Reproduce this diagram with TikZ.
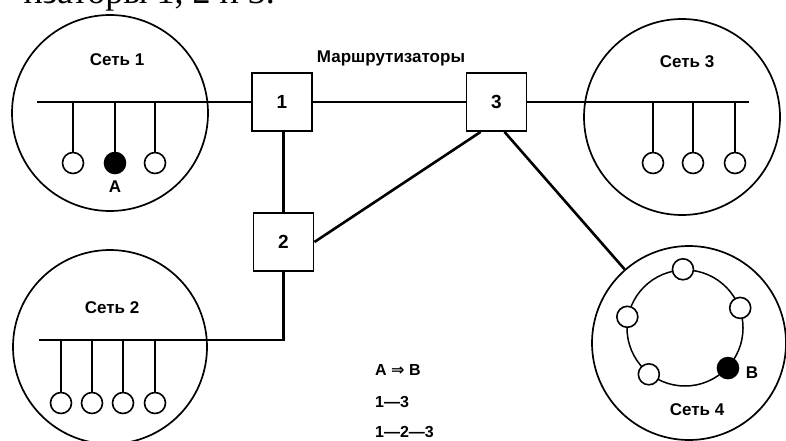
\documentclass[tikz,border=0pt]{standalone}
\usepackage{fontspec}
\setmainfont{Liberation Sans}
\newfontfamily\serifcut{Liberation Serif}
\newfontfamily\symfnt{DejaVu Sans}
\begin{document}
\begin{tikzpicture}[x=1pt,y=-1pt,
  bus/.style={line width=2.8pt},
  link/.style={line width=2.6pt},
  drop/.style={line width=1.4pt},
  netring/.style={draw,circle,line width=1.7pt,inner sep=0pt},
  router/.style={draw,line width=1.9pt,minimum width=60pt,minimum height=58pt,inner sep=0pt,font=\fontsize{19}{19}\selectfont\bfseries},
  host/.style={draw,circle,line width=1.6pt,minimum size=21pt,inner sep=0pt,fill=white},
  hostB/.style={host,fill=black},
  lbl/.style={font=\fontsize{17}{17}\selectfont\bfseries,inner sep=0pt},
  leg/.style={font=\fontsize{16}{16}\selectfont\bfseries,inner sep=0pt,anchor=west}]
\clip (0,0) rectangle (786,441);
\useasboundingbox (0,0) rectangle (786,441);

% cut-off text at top
\node[font=\serifcut\fontsize{36}{36}\selectfont,anchor=base east,inner sep=0pt] (cut) at (275,4) {изаторы 1, 2 и 3.};

% networks
\node[netring,minimum size=196pt] (n1) at (110,113) {};
\node[netring,minimum size=194pt] (n2) at (110,347) {};
\node[netring,minimum size=196pt] (n3) at (682,117) {};
\node[netring,minimum size=194pt] (n4) at (689,343) {};

% routers
\node[router] (r1) at (282,102) {1};
\node[router] (r2) at (283.5,242) {2};
\node[router] (r3) at (496.5,102) {3};

% buses
\coordinate (b1) at (37,102);
\coordinate (b3) at (749,102);
\coordinate (b2) at (39,340);
\draw[bus] (b1) -- (r1);
\draw[bus] (r3) -- (b3);
\draw[bus] (b2) -- (b2 -| r2) -- (r2.south);

% router links
\draw[link] (r1) -- (r3);
\draw[link] (r2.north) -- (r2.north |- r1.south);
\draw[link] (r2.east) -- ([xshift=15pt]r3.south west);
\draw[link] ([xshift=39pt]r3.south west) -- (n4);

% net 1 hosts
\foreach \x/\n/\s in {73/h11/host,115/h12/hostB,155/h13/host}{
  \node[\s] (\n) at (\x,163) {};
  \draw[drop] (\n.north) -- (\n.north |- b1);
}
% net 3 hosts
\foreach \x/\n in {653/h31,693/h32,735/h33}{
  \node[host] (\n) at (\x,163) {};
  \draw[drop] (\n.north) -- (\n.north |- b3);
}
% net 2 hosts
\foreach \x/\n in {61/h21,92/h22,123/h23,155/h24}{
  \node[host] (\n) at (\x,403) {};
  \draw[drop] (\n.north) -- (\n.north |- b2);
}
% net 4 ring
\node[netring,line width=1.5pt,minimum size=116pt] (ring) at (685,328) {};
\node[host] (h41) at (ring.92) {};
\node[host] (h42) at (ring.20) {};
\node[host] (h43) at (ring.169) {};
\node[host] (h44) at (ring.232) {};
\node[hostB] (h45) at (ring.317) {};

% labels
\node[lbl] (l1) at (117,60) {Сеть 1};
\node[lbl] (l3) at (687,62) {Сеть 3};
\node[lbl] (l2) at (112,308) {Сеть 2};
\node[lbl] (l4) at (697,410) {Сеть 4};
\node[lbl] (la) at (115,187) {A};
\node[lbl] (lb) at (752,373) {B};
\node[lbl] (lm) at (391,58) {Маршрутизаторы};

% legend
\node[leg] (g1) at (375,370) {A {\symfnt\bfseries⇒} B};
\node[leg] (g2) at (375,402) {1—3};
\node[leg] (g3) at (375,432) {1—2—3};
\end{tikzpicture}
\end{document}
